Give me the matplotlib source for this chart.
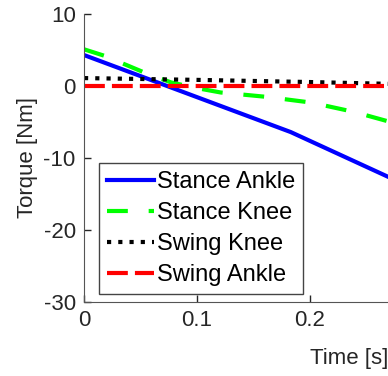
import numpy as np
import matplotlib
matplotlib.use("Agg")
import matplotlib.pyplot as plt

plt.rcParams['font.family'] = ['Liberation Sans', 'DejaVu Sans']
plt.rcParams['axes.unicode_minus'] = False

# values
t_ankle = [0.0, 0.183, 0.269, 0.3]
stance_ankle = [4.3, -6.4, -12.6, -14.8]

t_knee = [0.0, 0.018, 0.053, 0.077, 0.1, 0.121, 0.161, 0.201, 0.239, 0.269, 0.3]
stance_knee = [5.1, 4.2, 1.9, 0.5, -0.3, -0.9, -1.5, -2.3, -3.6, -4.9, -6.2]

t_swing = [0.0, 0.1, 0.2, 0.27, 0.3]
swing_knee = [1.1, 0.85, 0.55, 0.3, 0.2]
swing_ankle = [0.0, 0.0, 0.0, 0.0, 0.0]

labels = ['Stance Ankle', 'Stance Knee', 'Swing Knee', 'Swing Ankle']

fig = plt.figure(figsize=(3.88, 3.76), dpi=100)
ax = fig.add_axes([84/388, 74/376, 531/388, 288/376])

ax.plot(t_ankle, stance_ankle, color='#0000ff', lw=3, label=labels[0])
ax.plot(t_knee, stance_knee, color='#00ff00', lw=3, ls=(0, (5, 5)), label=labels[1])
ax.plot(t_swing, swing_knee, color='black', lw=3, ls=(0, (1, 1.7)),
        dash_capstyle='butt', label=labels[2])
ax.plot(t_swing, swing_ankle, color='#ff0000', lw=3, ls=(0, (5, 1.7)), label=labels[3])

ax.set_xlim(0, 0.47)
ax.set_ylim(-30, 10)
ax.set_xticks([0, 0.1, 0.2])
ax.set_xticklabels(['0', '0.1', '0.2'])
ax.set_yticks([-30, -20, -10, 0, 10])
ax.tick_params(direction='in', length=5, width=1, labelsize=16,
               colors='#262626', pad=6)
for s in ['top', 'right']:
    ax.spines[s].set_visible(False)
for s in ['left', 'bottom']:
    ax.spines[s].set_color('#555555')

ax.set_xlabel('Time [s]', fontsize=16, color='#262626', labelpad=12)
ax.set_ylabel('Torque [Nm]', fontsize=16, color='#262626', labelpad=4)

leg = ax.legend(loc='upper left', bbox_to_anchor=(99/388, 1 - 163/376),
                bbox_transform=fig.transFigure, fontsize=17, frameon=True,
                fancybox=False, edgecolor='#444444', framealpha=1,
                handlelength=2.0, handletextpad=0.1, labelspacing=0.38,
                borderpad=0.35, borderaxespad=0)
leg.get_frame().set_linewidth(1)

fig.savefig('out.png', dpi=100)
